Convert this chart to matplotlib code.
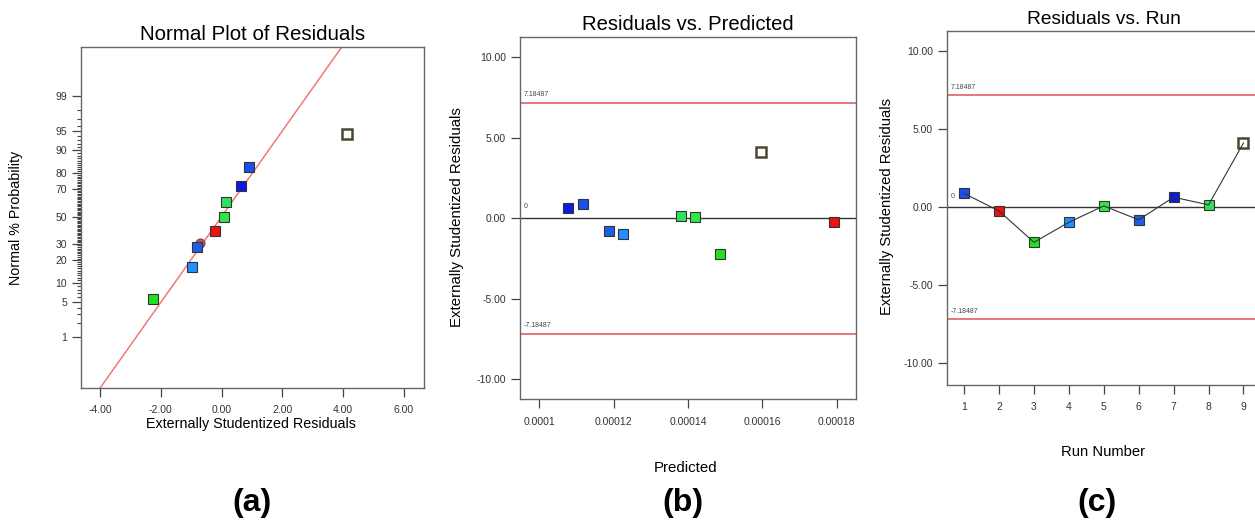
import numpy as np
import matplotlib
matplotlib.use('Agg')
import matplotlib.pyplot as plt
from matplotlib import font_manager
from statistics import NormalDist

plt.rcParams['font.family'] = ['Liberation Sans', 'DejaVu Sans']

# data, one entry per run
runs = [1, 2, 3, 4, 5, 6, 7, 8, 9]
residuals = [0.89, -0.23, -2.24, -0.96, 0.09, -0.80, 0.65, 0.16, 4.12]
predicted = [0.0001117, 0.0001792, 0.0001487, 0.0001226, 0.0001420,
             0.0001187, 0.0001078, 0.0001382, 0.0001597]
run_colors = ['#1a4ff0', '#ee1111', '#22e022', '#1e90ff', '#2ee84a',
              '#1f5fe8', '#0b1be0', '#2ee35a', '#ffffff']
run_edges = ['#333333'] * 8 + ['#4a4830']

# normal plot: sorted residuals vs normal % probability
normal_x = [-2.24, -0.96, -0.80, -0.23, 0.09, 0.16, 0.65, 0.89, 4.12]
normal_p = [5.6, 16.7, 27.8, 38.9, 50.0, 61.1, 72.2, 83.3, 94.4]
normal_colors = ['#22e022', '#1e90ff', '#1f5fe8', '#ee1111', '#2ee84a',
                 '#2ee35a', '#0b1be0', '#1a4ff0', '#ffffff']
normal_edges = ['#333333'] * 8 + ['#4a4830']
circle_x = [-0.70]
circle_p = [30.8]
line_mean, line_sd = 0.0, 1.21

prob_ticks = [1, 5, 10, 20, 30, 50, 70, 80, 90, 95, 99]
limit = 7.18487

nd = NormalDist()
_fwd = np.vectorize(nd.inv_cdf, otypes=[float])
_inv = np.vectorize(nd.cdf, otypes=[float])


def prob_fwd(p):
    p = np.clip(np.asarray(p, dtype=float) / 100.0, 1e-9, 1 - 1e-9)
    return _fwd(p)


def prob_inv(z):
    return _inv(np.asarray(z, dtype=float)) * 100.0


spine_c = '#666666'
tick_c = '#444444'

fig = plt.figure(figsize=(12.55, 5.21), dpi=100)


def style(ax):
    for s in ax.spines.values():
        s.set_color(spine_c)
        s.set_linewidth(1.0)
    ax.tick_params(colors=tick_c, labelcolor='#333333', labelsize=7.5,
                   width=0.9, length=6.5, direction='out')
    ax.tick_params(axis='x', pad=6)


# ---------- (a) normal plot ----------
ax1 = fig.add_axes([0.0645, 0.2553, 0.2733, 0.6545])
style(ax1)
ax1.set_yscale('function', functions=(prob_fwd, prob_inv))
zz = np.linspace(-3.3, 3.27, 50)
ax1.plot(line_mean + line_sd * zz, prob_inv(zz), color='#f07878', lw=1.1, zorder=1)
for x, p, c, e in zip(normal_x, normal_p, normal_colors, normal_edges):
    big = c == '#ffffff'
    ax1.plot(x, p, 's', ms=7.5 if big else 6.5, mfc=c, mec=e,
             mew=1.8 if big else 0.8, zorder=3)
ax1.plot(circle_x, circle_p, 'o', ms=6.5, mfc='#b85a5a', mec='#804040', mew=0.8, zorder=2)
ax1.set_xlim(-4.625, 6.66)
ax1.set_ylim(prob_inv(-3.3), prob_inv(3.27))
ax1.set_xticks([-4, -2, 0, 2, 4, 6])
ax1.set_xticklabels(['-4.00', '-2.00', '0.00', '2.00', '4.00', '6.00'])
ax1.set_yticks(prob_ticks)
ax1.set_yticklabels([str(t) for t in prob_ticks])
minor = [m for m in range(2, 99) if m not in prob_ticks]
ax1.set_yticks(minor, minor=True)
ax1.tick_params(axis='y', which='minor', length=3, width=0.8, colors=tick_c)
ax1.tick_params(axis='y', which='major', length=6.5)
ax1.set_title('Normal Plot of Residuals', fontsize=14.8, pad=4.8)
ax1.set_xlabel('Externally Studentized Residuals', fontsize=10.3)
ax1.set_ylabel('Normal % Probability', fontsize=10.3)
ax1.xaxis.set_label_coords(0.497, -0.085)
ax1.yaxis.set_label_coords(-0.169, 0.5)


def limit_lines(ax):
    ax.axhline(limit, color='#e06060', lw=1.2, zorder=1)
    ax.axhline(-limit, color='#e06060', lw=1.2, zorder=1)
    ax.axhline(0, color='#333333', lw=1.0, zorder=1)
    tr = ax.get_yaxis_transform()
    ax.text(0.012, limit + 0.3, '%.5f' % limit, transform=tr, fontsize=5, color='#444444', va='bottom')
    ax.text(0.012, -limit + 0.3, '%.5f' % -limit, transform=tr, fontsize=5, color='#444444', va='bottom')
    ax.text(0.012, 0.5, '0', transform=tr, fontsize=5, color='#444444', va='bottom')


yt = [-10, -5, 0, 5, 10]
ytl = ['-10.00', '-5.00', '0.00', '5.00', '10.00']

# ---------- (b) residuals vs predicted ----------
ax2 = fig.add_axes([0.4143, 0.2336, 0.2677, 0.696])
style(ax2)
limit_lines(ax2)
for x, r, c, e in zip(predicted, residuals, run_colors, run_edges):
    big = c == '#ffffff'
    ax2.plot(x, r, 's', ms=7.5 if big else 6.5, mfc=c, mec=e,
             mew=1.8 if big else 0.8, zorder=3)
ax2.set_xlim(0.0000948, 0.0001852)
ax2.set_ylim(-11.25, 11.28)
ax2.set_xticks([0.0001, 0.00012, 0.00014, 0.00016, 0.00018])
ax2.set_xticklabels(['0.0001', '0.00012', '0.00014', '0.00016', '0.00018'])
ax2.set_yticks(yt)
ax2.set_yticklabels(ytl)
ax2.set_title('Residuals vs. Predicted', fontsize=14.6, pad=4.8)
ax2.set_xlabel('Predicted', fontsize=10.8)
ax2.set_ylabel('Externally Studentized Residuals', fontsize=10.8)
ax2.xaxis.set_label_coords(0.494, -0.170)
ax2.yaxis.set_label_coords(-0.167, 0.503)

# ---------- (c) residuals vs run ----------
ax3 = fig.add_axes([0.7543, 0.261, 0.2504, 0.680])
style(ax3)
limit_lines(ax3)
ax3.plot(runs, residuals, color='#333333', lw=0.8, zorder=4)
for x, r, c, e in zip(runs, residuals, run_colors, run_edges):
    big = c == '#ffffff'
    ax3.plot(x, r, 's', ms=7.5 if big else 6.5, mfc=c, mec=e,
             mew=1.8 if big else 0.8, zorder=3)
ax3.set_xlim(0.5, 9.5)
ax3.set_ylim(-11.39, 11.32)
ax3.set_xticks(runs)
ax3.set_yticks(yt)
ax3.set_yticklabels(ytl)
ax3.set_title('Residuals vs. Run', fontsize=13.8, pad=4.8)
ax3.set_xlabel('Run Number', fontsize=10.6)
ax3.set_ylabel('Externally Studentized Residuals', fontsize=10.6)
ax3.xaxis.set_label_coords(0.497, -0.168)
ax3.yaxis.set_label_coords(-0.168, 0.503)

# panel letters
try:
    font_manager.findfont('Liberation Sans Narrow', fallback_to_default=False)
    letter_font, letter_size = 'Liberation Sans Narrow', 28
except Exception:
    letter_font, letter_size = 'Liberation Sans', 23
for lab, xp in [('(a)', 252), ('(b)', 683), ('(c)', 1097)]:
    fig.text(xp / 1255, 1 - 503 / 521, lab, ha='center', va='center',
             fontsize=letter_size, fontweight='bold', family=letter_font)

fig.savefig('out.png', dpi=100)
